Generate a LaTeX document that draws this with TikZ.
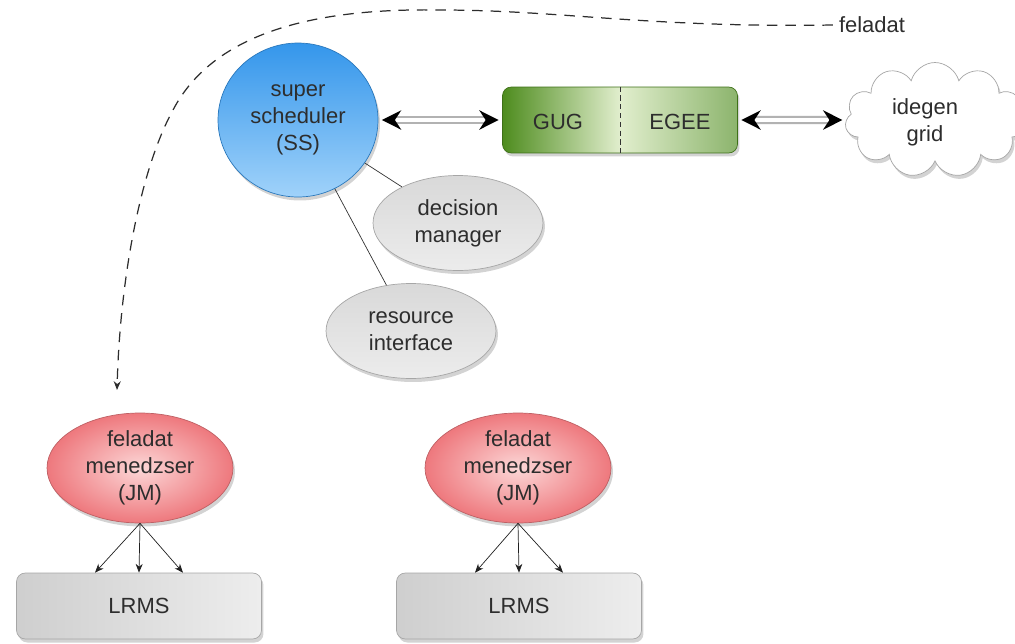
\documentclass[tikz,border=0pt]{standalone}
\usepackage{fontspec}
\setmainfont{Liberation Sans}
\usepackage{tikz}
\usetikzlibrary{arrows.meta,positioning,shapes.geometric,shapes.symbols,shadows,calc}
\usepackage{xcolor}
\definecolor{ssblue}{RGB}{52,150,235}
\definecolor{sslight}{RGB}{160,210,250}
\definecolor{ggreen}{RGB}{78,140,30}
\definecolor{glight}{RGB}{225,238,205}
\definecolor{jmred}{RGB}{238,120,125}
\definecolor{jmlight}{RGB}{252,215,215}
\definecolor{txt}{RGB}{45,45,45}

\begin{document}
\begin{tikzpicture}[
      x=0.02cm, y=-0.02cm,
      every node/.style={font=\fontsize{12.5}{15.5}\selectfont,text=txt,align=center},
      shd/.style={drop shadow={opacity=0.35,shadow xshift=0.04cm,shadow yshift=-0.07cm}},
      ssnode/.style={ellipse,draw=ssblue!80!black,top color=ssblue,bottom color=sslight,
        minimum width=3.2cm,minimum height=3.08cm,inner sep=0pt,shd},
      mod/.style={ellipse,draw=gray!70,top color=gray!30,bottom color=gray!15,
        minimum width=3.4cm,minimum height=1.9cm,inner sep=0pt,shd},
      jm/.style={ellipse,draw=jmred!80!black,inner color=jmlight,outer color=jmred,
        minimum width=3.72cm,minimum height=2.2cm,inner sep=0pt,shd},
      lrms/.style={draw=gray!70,rounded corners=5pt,left color=gray!38,right color=gray!14,
        minimum width=4.9cm,minimum height=1.32cm,shd},
      dbl/.style={draw=gray!60,double=white,double distance=2.2pt,line width=1.3pt,
        {Stealth[length=11pt,width=11pt,black]}-{Stealth[length=11pt,width=11pt,black]},
        shorten <=2pt,shorten >=2pt},
      sub/.style={-{Stealth[length=5pt,width=4pt]},draw=gray!25!black,thin}
    ]
    \useasboundingbox (0,0) rectangle (1015,643);

    % upper part
    \node[ssnode] (ss) at (298,120) {super\\scheduler\\(SS)};
    \node[draw=ggreen!80!black,rounded corners=5pt,left color=ggreen,right color=ggreen!65,
      middle color=glight,minimum width=4.7cm,minimum height=1.32cm,shd] (grid) at (620,120) {};
    \node (gug) at (558,122) {GUG};
    \node (egee) at (680,122) {EGEE};
    \draw[densely dashed,gray!40!black] (grid.north) -- (grid.south);
    \node[cloud,cloud puffs=11,aspect=1.5,draw=gray!70,fill=white,
      minimum width=3.6cm,minimum height=2.3cm,shd] (idegen) at (935,120) {};
    \node at (925,122) {idegen\\grid};

    \node[mod] (dm) at (458,223) {decision\\manager};
    \node[mod] (ri) at (411,331) {resource\\interface};

    \draw[dbl] (ss) -- (grid);
    \draw[dbl] (grid) -- (idegen);
    \draw[gray!40!black] (ss) -- (dm);
    \draw[gray!40!black] (ss) -- (ri);

    % feladat
    \node (fel) at (872,25) {feladat};
    \draw[dash pattern=on 6pt off 4.5pt,line width=0.7pt,gray!35!black,-{Stealth[length=5pt,width=4pt]}]
      (fel.west) .. controls (650,28) and (560,10) .. (440,10)
      .. controls (320,8) and (215,30) .. (173,110)
      .. controls (140,170) and (120,280) .. (117,390);

    % lower part
    \node[jm] (jma) at (140,468) {feladat\\menedzser\\(JM)};
    \node[jm] (jmb) at (518,468) {feladat\\menedzser\\(JM)};
    \node[lrms] (lrmsa) at (139,606) {LRMS};
    \node[lrms] (lrmsb) at (519,606) {LRMS};
    \foreach \j/\l in {jma/lrmsa,jmb/lrmsb} {
      \draw[sub] (\j.south) -- ([xshift=-0.88cm]\l.north);
      \draw[sub] (\j.south) -- (\l.north);
      \draw[sub] (\j.south) -- ([xshift=0.88cm]\l.north);
    }
  \end{tikzpicture}
\end{document}
